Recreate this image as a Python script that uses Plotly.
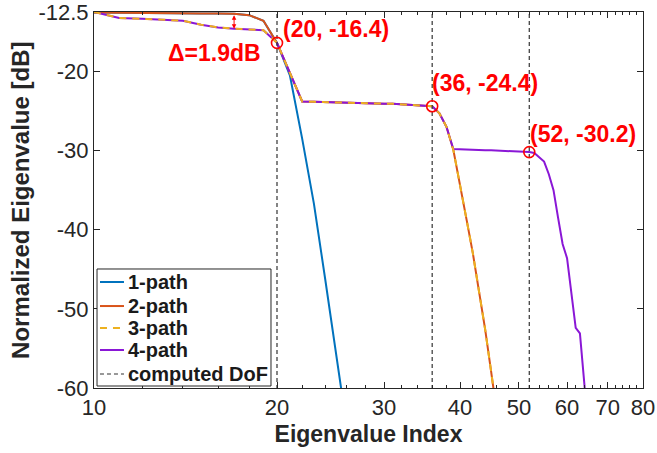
import math
import plotly.graph_objects as go

# ---------------- data ----------------
idx_1 = list(range(10, 27))
path1 = [-12.55, -12.6, -12.62, -12.65, -12.68, -12.7, -12.7, -12.72, -12.9, -13.6,
         -16.4, -20.5, -28.5, -36.7, -46.2, -55.3, -64.5]

idx_2 = list(range(10, 47))
path2 = [-12.55, -12.6, -12.62, -12.65, -12.68, -12.7, -12.7, -12.72, -12.9, -13.6,
         -16.4, -20.1, -23.8, -23.85, -23.9, -23.92, -23.95, -24.0, -24.0, -24.05,
         -24.08, -24.1, -24.15, -24.2, -24.25, -24.3, -24.4, -25.3, -27.0, -29.9,
         -34.2, -38.7, -43.0, -47.6, -52.6, -57.9, -63.2]

idx_3 = list(range(10, 47))
path3 = [-12.5, -13.25, -13.35, -13.45, -13.6, -14.1, -14.45, -14.6, -14.7, -14.8,
         -16.4, -20.1, -23.8, -23.85, -23.9, -23.92, -23.95, -24.0, -24.0, -24.05,
         -24.08, -24.1, -24.15, -24.2, -24.25, -24.3, -24.4, -25.3, -27.0, -29.9,
         -34.2, -38.7, -43.0, -47.6, -52.6, -57.9, -63.2]

idx_4 = list(range(10, 66))
path4 = [-12.5, -13.25, -13.35, -13.45, -13.6, -14.1, -14.45, -14.6, -14.7, -14.8,
         -16.4, -20.1, -23.8, -23.85, -23.9, -23.92, -23.95, -24.0, -24.0, -24.05,
         -24.08, -24.1, -24.15, -24.2, -24.25, -24.3, -24.4, -25.3, -27.0, -29.8,
         -29.85, -29.87, -29.9, -29.92, -29.95, -29.97, -30.0, -30.02, -30.05, -30.08,
         -30.1, -30.15, -30.2, -30.3, -30.8, -31.4, -33.0, -35.0, -38.5, -41.8,
         -43.6, -47.8, -52.4, -53.1, -58.5, -65.0]

dof_x = [20, 36, 52]
dof_y = [-16.4, -24.4, -30.2]

delta_x = 17
delta_top = path2[idx_2.index(delta_x)]
delta_bot = path4[idx_4.index(delta_x)]

legend_names = ["1-path", "2-path", "3-path", "4-path", "computed DoF"]

x_ticks = [10, 20, 30, 40, 50, 60, 70, 80]
x_minor = [v for v in range(12, 80, 2) if v not in x_ticks]
y_ticks = [-60, -50, -40, -30, -20, -12.5]
y_range = [-60, -12.5]
x_range = [10, 80]

x_title = "Eigenvalue Index"
y_title = "Normalized Eigenvalue [dB]"

# ---------------- styles ----------------
C1 = "#0072BD"
C2 = "#D95319"
C3 = "#EDB120"
C4 = "#8A17D6"
CDOF = "#333333"
RED = "#FF0000"
FONT = "Liberation Sans, Arial, sans-serif"
AX = "#262626"

styles = {
    "1-path": dict(color=C1, width=2),
    "2-path": dict(color=C2, width=2),
    "3-path": dict(color=C3, width=2, dash="7px,6px"),
    "4-path": dict(color=C4, width=2),
    "computed DoF": dict(color=CDOF, width=1.2, dash="4px,3px"),
}

fig = go.Figure()
fig.add_trace(go.Scatter(x=idx_1, y=path1, mode="lines", name="1-path",
                         line=styles["1-path"], showlegend=False))
fig.add_trace(go.Scatter(x=idx_2, y=path2, mode="lines", name="2-path",
                         line=styles["2-path"], showlegend=False))
fig.add_trace(go.Scatter(x=idx_4, y=path4, mode="lines", name="4-path",
                         line=styles["4-path"], showlegend=False))
fig.add_trace(go.Scatter(x=idx_3, y=path3, mode="lines", name="3-path",
                         line=styles["3-path"], showlegend=False))

# computed DoF vertical lines
vx, vy = [], []
for d in dof_x:
    vx += [d, d, None]
    vy += [y_range[0] - 1, y_range[1] + 1, None]
fig.add_trace(go.Scatter(x=vx, y=vy, mode="lines", name="computed DoF",
                         line=styles["computed DoF"], showlegend=False))

# DoF markers
fig.add_trace(go.Scatter(x=dof_x, y=dof_y, mode="markers", showlegend=False,
                         marker=dict(symbol="circle-open", size=11,
                                     line=dict(color=RED, width=1.6), color=RED)))

annots = []
shifts = [(4, 14), (-2, 23), (-1, 18)]
for (xv, yv), (dx, dy) in zip(zip(dof_x, dof_y), shifts):
    annots.append(dict(x=math.log10(xv), y=yv, xref="x", yref="y",
                       text=f"({xv}, {yv})", showarrow=False,
                       xanchor="left", yanchor="middle", xshift=dx, yshift=dy,
                       font=dict(family=FONT, size=23, color=RED, weight="bold")))

# delta arrow
annots.append(dict(x=math.log10(delta_x), y=delta_bot, ax=math.log10(delta_x), ay=delta_top,
                   xref="x", yref="y", axref="x", ayref="y", text="",
                   showarrow=True, arrowhead=2, arrowside="end+start",
                   arrowsize=0.9, arrowwidth=1, arrowcolor=RED))
annots.append(dict(x=math.log10(delta_x), y=delta_bot, xref="x", yref="y",
                   text=f"Δ={abs(delta_top - delta_bot):.1f}dB",
                   showarrow=False, xanchor="center", yanchor="middle",
                   xshift=-20, yshift=-24,
                   font=dict(family=FONT, size=23, color=RED, weight="bold")))

# y-axis title (rotated text)
annots.append(dict(x=-0.135, y=0.5, xref="paper", yref="paper", text=y_title,
                   textangle=-90, showarrow=False, xanchor="center", yanchor="middle",
                   font=dict(family=FONT, size=24, color=AX, weight="bold")))

# ---------------- manual legend (paper coords of plot area) ----------------
shapes = []
lg_x0, lg_x1, lg_y0, lg_y1 = 0.0055, 0.3224, 0.0053, 0.3165
shapes.append(dict(type="rect", xref="paper", yref="paper",
                   x0=lg_x0, x1=lg_x1, y0=lg_y0, y1=lg_y1,
                   line=dict(color=AX, width=1), fillcolor="white", layer="above"))
row_y = [0.2819, 0.2180, 0.1596, 0.1010, 0.0372]
for name, ry in zip(legend_names, row_y):
    st = styles[name]
    shapes.append(dict(type="line", xref="paper", yref="paper",
                       x0=0.0109, x1=0.0546, y0=ry, y1=ry, layer="above",
                       line=dict(color=st["color"], width=st["width"],
                                 dash=st.get("dash", "solid"))))
    annots.append(dict(x=0.0575, y=ry, xref="paper", yref="paper", text=name,
                       showarrow=False, xanchor="left", yanchor="middle",
                       font=dict(family=FONT, size=20, color="#1a1a1a", weight="bold")))

fig.update_layout(
    width=657, height=453,
    margin=dict(l=94, r=14, t=12, b=65),
    paper_bgcolor="white", plot_bgcolor="white",
    font=dict(family=FONT, color=AX),
    annotations=annots, shapes=shapes,
    showlegend=False,
    xaxis=dict(type="log", range=[math.log10(x_range[0]), math.log10(x_range[1])],
               tickvals=x_ticks, ticktext=[str(v) for v in x_ticks],
               ticks="inside", ticklen=6, tickcolor=AX, showline=True, linecolor=AX,
               linewidth=1, mirror="ticks", showgrid=False, zeroline=False,
               tickfont=dict(family=FONT, size=22, color=AX),
               ticklabeloverflow="allow",
               minor=dict(tickvals=x_minor, ticks="inside", ticklen=3, tickcolor=AX,
                          showgrid=False),
               title=dict(text=x_title, standoff=6,
                          font=dict(family=FONT, size=23, color=AX, weight="bold")),
               automargin=False),
    yaxis=dict(range=[y_range[0] - 0.001, y_range[1] + 0.001], tickvals=y_ticks,
               ticktext=[("%g" % v) for v in y_ticks],
               ticks="inside", ticklen=6, tickcolor=AX, showline=True, linecolor=AX,
               linewidth=1, mirror="ticks", showgrid=False, zeroline=False,
               tickfont=dict(family=FONT, size=22, color=AX),
               ticklabeloverflow="allow",
               automargin=False),
)

fig.write_html("out.html")
